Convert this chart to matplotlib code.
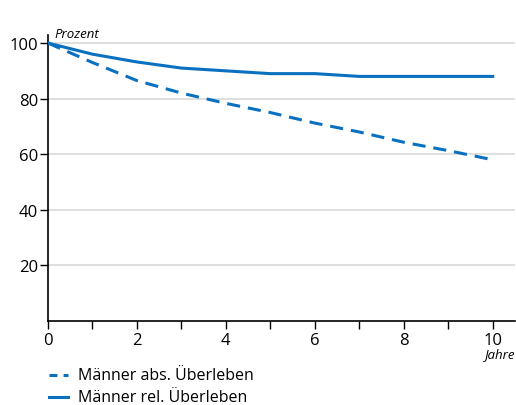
import matplotlib
matplotlib.use("Agg")
import matplotlib.pyplot as plt
from matplotlib.lines import Line2D

years = [0, 1, 2, 3, 4, 5, 6, 7, 8, 9, 10]
abs_surv = [100, 93, 86.5, 82, 78.3, 75, 71.2, 68, 64.3, 61.3, 58]
rel_surv = [100, 96, 93.2, 91, 90, 89, 89, 88, 88, 88, 88]
yticks = [20, 40, 60, 80, 100]
xticks_lab = [0, 2, 4, 6, 8, 10]
labels = ["Männer abs. Überleben", "Männer rel. Überleben"]

blue = "#0a70c0"
plt.rcParams['font.family'] = ['Open Sans', 'DejaVu Sans']

fig = plt.figure(figsize=(5.16, 4.06), dpi=100)
ax = fig.add_axes([0.093, 0.207, 0.905, 0.705])
ax.set_xlim(0, 10.5)
ax.set_ylim(0, 103)

for y in yticks:
    ax.axhline(y, color="#d9d9d9", lw=1.2, zorder=0)

dash = (0, (4.3, 2.6))
ax.plot(years, abs_surv, color=blue, lw=2.2, ls=dash, zorder=3)
ax.plot(years, rel_surv, color=blue, lw=2.2, zorder=3)

for s in ["top", "right"]:
    ax.spines[s].set_visible(False)
ax.spines["left"].set_linewidth(1.2)
ax.spines["bottom"].set_linewidth(1.2)

ax.set_yticks(yticks)
ax.set_yticklabels([str(v) for v in yticks])
ax.set_xticks(years)
ax.set_xticklabels([str(v) if v in xticks_lab else "" for v in years])
ax.tick_params(axis="y", length=6, width=1, pad=1, labelsize=12, colors="black")
ax.tick_params(axis="x", length=6, width=1, pad=2, labelsize=12, direction="out", colors="black")

fig.text(54/516, 1 - 35/406, "Prozent", fontsize=9.5, style="italic", va="center", ha="left")
fig.text(515/516, 1 - 355/406, "Jahre", fontsize=9.5, style="italic", va="center", ha="right")

# legend
leg_y = [376, 398]
styles = [(0, (2.6, 2.0)), "-"]
for yy, st, lab in zip(leg_y, styles, labels):
    yf = 1 - yy / 406
    fig.add_artist(Line2D([49/516, 68/516], [yf, yf], color=blue, lw=2.2, ls=st))
    fig.text(78/516, yf, lab, fontsize=11.5, va="center", ha="left")

fig.savefig("out.png", dpi=100)
